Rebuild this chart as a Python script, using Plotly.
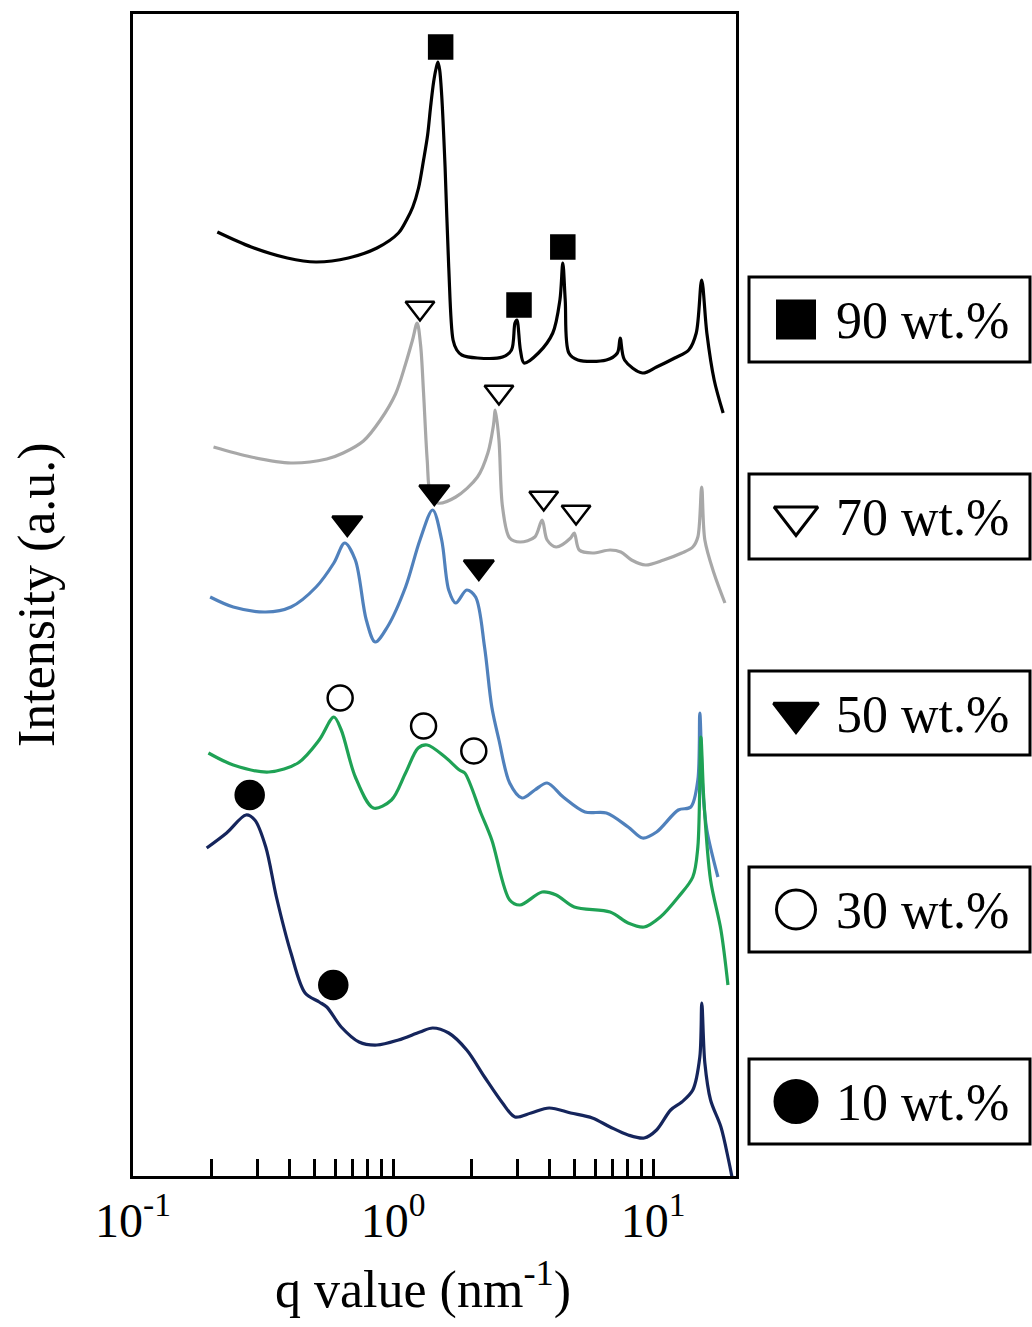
import plotly.graph_objects as go

# ---------------- data (q in nm^-1, intensity in arbitrary units, curves offset) -------------
q90 = [0.211, 0.285, 0.392, 0.505, 0.673, 0.867, 1.049, 1.127, 1.191, 1.253, 1.310, 1.358,
       1.394, 1.432, 1.465, 1.488, 1.511, 1.538, 1.585, 1.637, 1.701, 1.758, 1.837, 2.111,
       2.636, 2.854, 2.943, 2.994, 3.088, 3.189, 3.622, 4.113, 4.381, 4.495, 4.592, 4.742,
       5.137, 6.612, 7.288, 7.472, 7.763, 9.101, 10.31, 12.11, 13.71, 14.65, 15.37, 16.09,
       17.17, 18.59]
i90 = [944, 929, 918, 914, 918, 928, 943, 956, 969, 988, 1016, 1041,
       1069, 1094, 1108, 1114, 1106, 1081, 1009, 909, 836, 826, 821, 818,
       819, 826, 853, 856, 826, 813, 823, 843, 876, 913, 876, 823,
       816, 816, 823, 838, 816, 803, 809, 818, 826, 843, 896, 843,
       796, 763]

q70 = [0.204, 0.285, 0.405, 0.556, 0.643, 0.769, 0.894, 1.022, 1.117, 1.188, 1.238, 1.276,
       1.310, 1.353, 1.394, 1.484, 1.742, 2.111, 2.315, 2.433, 2.473, 2.554, 2.636, 2.808,
       3.077, 3.508, 3.743, 3.913, 4.240, 4.818, 4.975, 5.201, 5.839, 6.834, 7.516, 8.260,
       9.355, 10.98, 12.89, 14.21, 14.86, 15.37, 15.81, 17.13, 18.89]
i70 = [729, 719, 713, 717, 723, 735, 756, 782, 812, 836, 853, 831,
       783, 716, 681, 673, 679, 699, 723, 751, 766, 736, 669, 638,
       634, 639, 656, 636, 629, 638, 643, 626, 623, 626, 624, 616,
       611, 616, 623, 629, 639, 689, 636, 603, 573]

q50 = [0.198, 0.243, 0.324, 0.405, 0.506, 0.592, 0.652, 0.716, 0.789, 0.854, 0.951, 1.117,
       1.269, 1.420, 1.538, 1.637, 1.742, 1.920, 2.077, 2.248, 2.397, 2.554, 2.808, 3.133,
       3.508, 3.913, 4.511, 5.472, 6.612, 8.015, 9.108, 10.31, 12.50, 13.96, 14.86, 15.12,
       15.53, 16.09, 17.75]
i50 = [579, 569, 564, 569, 589, 613, 633, 616, 556, 534, 549, 589,
       636, 666, 636, 586, 573, 586, 579, 529, 469, 436, 393, 378,
       386, 393, 379, 364, 363, 349, 338, 344, 366, 369, 396, 463,
       386, 346, 299]

q30 = [0.195, 0.243, 0.333, 0.431, 0.520, 0.592, 0.632, 0.716, 0.840, 0.986, 1.117, 1.249,
       1.353, 1.585, 1.800, 1.887, 2.176, 2.397, 2.808, 3.077, 3.743, 4.240, 4.975, 6.834,
       8.015, 9.240, 10.66, 12.50, 14.21, 14.86, 15.26, 15.67, 16.63, 18.23, 19.40]
i30 = [423, 411, 404, 413, 436, 459, 446, 399, 368, 376, 403, 428,
       431, 419, 406, 403, 363, 336, 276, 271, 284, 281, 269, 264,
       253, 249, 259, 279, 299, 329, 439, 376, 296, 246, 191]

q10 = [0.192, 0.229, 0.272, 0.294, 0.324, 0.356, 0.405, 0.459, 0.520, 0.556, 0.632, 0.740,
       0.867, 1.049, 1.269, 1.420, 1.637, 1.920, 2.248, 2.636, 2.943, 3.395, 3.984, 4.818,
       5.839, 6.834, 8.015, 9.240, 10.31, 11.68, 12.89, 14.21, 15.12, 15.39, 15.81, 16.63,
       18.23, 19.50, 20.10]
i10 = [328, 343, 361, 356, 329, 279, 223, 183, 174, 169, 149, 134,
       131, 136, 144, 148, 143, 126, 99, 73, 59, 63, 68, 63,
       58, 49, 41, 38, 46, 66, 74, 86, 119, 173, 113, 76,
       49, 16, -1]

# peak marks (position of symbol above each indexed peak)
mark90_q = [1.524, 3.050, 4.495]
mark90_i = [1129, 871, 929]
mark70_q = [1.269, 2.554, 3.796, 5.054]
mark70_i = [868, 784, 678, 664]
mark50_q = [0.667, 1.441, 2.137]
mark50_i = [653, 684, 609]
mark30_q = [0.626, 1.310, 2.044]
mark30_i = [478, 450, 425]
mark10_q = [0.281, 0.589]
mark10_i = [381, 191]

series_labels = ["90 wt.%", "70 wt.%", "50 wt.%", "30 wt.%", "10 wt.%"]

xtick_vals = [0.1, 1, 10]
xtick_text = ["10<sup>-1</sup>", "10<sup>0</sup>", "10<sup>1</sup>"]
xminor_vals = [0.2, 0.3, 0.4, 0.5, 0.6, 0.7, 0.8, 0.9, 2, 3, 4, 5, 6, 7, 8, 9]

# ---------------- styles ----------------
FONT = "Liberation Serif, Times New Roman, serif"
W, H = 1032, 1327
PX_L, PX_R, PX_T, PX_B = 133, 736, 14, 1176

curves = [
    (q90, i90, "#000000"),
    (q70, i70, "#a8a8a8"),
    (q50, i50, "#5081bc"),
    (q30, i30, "#1fa255"),
    (q10, i10, "#15255c"),
]
marks = [
    (mark90_q, mark90_i, "square", 23, "black", "black"),
    (mark70_q, mark70_i, "triangle-down", 25, "white", "black"),
    (mark50_q, mark50_i, "triangle-down", 26, "black", "black"),
    (mark30_q, mark30_i, "circle", 25, "white", "black"),
    (mark10_q, mark10_i, "circle", 28, "black", "black"),
]
legend_symbol_sizes = [37, 38, 39, 39, 42]

fig = go.Figure()

for (qx, iy, col), lab in zip(curves, series_labels):
    fig.add_trace(go.Scatter(x=qx, y=iy, mode="lines", name=lab,
                             line=dict(color=col, width=3.2, shape="spline", smoothing=0.9),
                             showlegend=False, xaxis="x", yaxis="y"))

for (mq, mi, sym, sz, fill, edge), lab in zip(marks, series_labels):
    fig.add_trace(go.Scatter(x=mq, y=mi, mode="markers", name=lab,
                             marker=dict(symbol=sym, size=sz, color=fill,
                                         line=dict(color=edge, width=2.5)),
                             showlegend=False, xaxis="x", yaxis="y", cliponaxis=False))

# ---------------- legend boxes (drawn in a pixel-coordinate overlay axis) ----------------
box_x0, box_x1 = 749, 1030
box_y = [(277, 362), (474, 559), (671, 755), (867, 952), (1059, 1144)]
sym_x, text_x = 796, 834

for k, ((y0, y1), lab) in enumerate(zip(box_y, series_labels)):
    fig.add_shape(type="rect", xref="x2", yref="y2", x0=box_x0, x1=box_x1, y0=y0, y1=y1,
                  line=dict(color="black", width=3), fillcolor="rgba(0,0,0,0)")
    yc = (y0 + y1) / 2
    _, _, sym, _, fill, edge = marks[k]
    fig.add_trace(go.Scatter(x=[sym_x], y=[yc], mode="markers", xaxis="x2", yaxis="y2",
                             marker=dict(symbol=sym, size=legend_symbol_sizes[k], color=fill,
                                         line=dict(color=edge, width=3)),
                             showlegend=False, hoverinfo="skip", cliponaxis=False))
    fig.add_annotation(x=text_x, y=yc + 1, xref="x2", yref="y2", text=lab, showarrow=False,
                       xanchor="left", yanchor="middle",
                       font=dict(family=FONT, size=52, color="black"))

# axis titles
fig.add_annotation(x=37, y=595, xref="x2", yref="y2", text="Intensity (a.u.)",
                   textangle=-90, showarrow=False, xanchor="center", yanchor="middle",
                   font=dict(family=FONT, size=52, color="black"))
fig.add_annotation(x=423, y=1286, xref="x2", yref="y2", text="q value (nm<sup>-1</sup>)",
                   showarrow=False, xanchor="center", yanchor="middle",
                   font=dict(family=FONT, size=52, color="black"))

fig.update_layout(
    template="none",
    width=W, height=H,
    margin=dict(l=0, r=0, t=0, b=0, pad=0),
    paper_bgcolor="white", plot_bgcolor="rgba(0,0,0,0)",
    showlegend=False,
    font=dict(family=FONT, color="black"),
    xaxis=dict(type="log", range=[-1.0, 1.3187],
               domain=[PX_L / W, PX_R / W],
               showline=True, mirror=True, linecolor="black", linewidth=3,
               showgrid=False, zeroline=False, automargin=False,
               tickmode="array", tickvals=xtick_vals, ticktext=xtick_text,
               ticks="inside", ticklen=17, tickwidth=3, tickcolor="black",
               minor=dict(tickmode="array", tickvals=xminor_vals, ticks="inside",
                          ticklen=17, tickwidth=3, tickcolor="black", showgrid=False),
               tickfont=dict(family=FONT, size=48, color="black"),
               anchor="y"),
    yaxis=dict(range=[0, 1162],
               domain=[(H - PX_B) / H, (H - PX_T) / H],
               showline=True, mirror=True, linecolor="black", linewidth=3,
               showgrid=False, zeroline=False, showticklabels=False, ticks="",
               automargin=False, anchor="x"),
    xaxis2=dict(range=[0, W], domain=[0, 1], visible=False, anchor="y2",
                fixedrange=True, automargin=False),
    yaxis2=dict(range=[H, 0], domain=[0, 1], visible=False, anchor="x2",
                fixedrange=True, automargin=False),
)

fig.write_html("out.html", config={"displayModeBar": False},
               post_script="document.body.style.margin='0px';")
